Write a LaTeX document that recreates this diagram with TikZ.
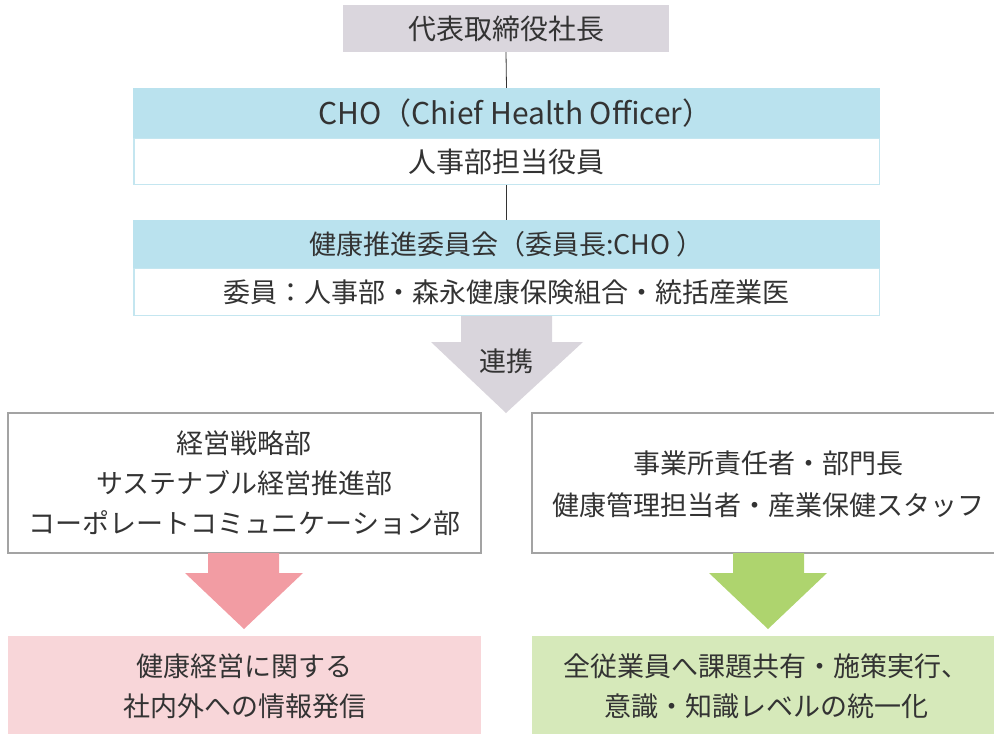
\documentclass[tikz,border=0pt]{standalone}
\usepackage{fontspec}
\setmainfont{Noto Sans CJK JP}
\definecolor{txt}{HTML}{333333}
\definecolor{ceogray}{HTML}{DAD6DD}
\definecolor{hblue}{HTML}{BAE2EE}
\definecolor{bblue}{HTML}{C4E6F0}
\definecolor{boxgray}{HTML}{A3A3A3}
\definecolor{arrgray}{HTML}{D9D5DC}
\definecolor{arrpink}{HTML}{F29CA3}
\definecolor{boxpink}{HTML}{F8D6D9}
\definecolor{arrgreen}{HTML}{AED46E}
\definecolor{boxgreen}{HTML}{D6E9BA}
\begin{document}
\begin{tikzpicture}[x=1pt,y=-1pt,
  every node/.style={text=txt, inner sep=0pt, font=\fontsize{27}{40}\selectfont},
  big/.style={font=\fontsize{28}{40}\selectfont},
  hdr/.style={fill=hblue, minimum width=747pt, align=center},
  sub/.style={fill=white, draw=bblue, line width=1.5pt, minimum width=745.5pt, align=center},
  plain/.style={fill=white, draw=boxgray, line width=1.2pt, align=center},
  res/.style={align=center},
  link/.style={draw=txt, line width=0.8pt}]
\useasboundingbox (0,0) rectangle (994,734);
% top
\node[big, fill=ceogray, minimum width=326pt, minimum height=47pt] (ceo) at (506,28.5) {代表取締役社長};
% CHO block
\node[hdr, minimum height=50pt, font=\fontsize{30}{40}\selectfont] (cho) at (506.5,113) {\hspace*{18pt}CHO（Chief Health Officer）};
\node[sub, big, minimum height=46pt] (chomem) at (506.5,161.5) {人事部担当役員};
\draw[link] (ceo.south) -- (cho.north);
% committee block
\node[hdr, minimum height=48pt] (com) at (506.5,244) {健康推進委員会（委員長:CHO ）};
\node[sub, minimum height=47pt] (commem) at (506.5,292) {委員：人事部・森永健康保険組合・統括産業医};
\draw[link] (chomem.south) -- (com.north);
% gray arrow
\fill[arrgray] (461,316) -- (552,316) -- (552,342) -- (583,342) -- (506,413) -- (431,342) -- (461,342) -- cycle;
\node (renkei) at (506,361) {連携};
% left column
\node[plain, minimum width=473pt, minimum height=140pt] (left) at (244.5,483)
  {経営戦略部\\サステナブル経営推進部\\コーポレートコミュニケーション部};
\fill[arrpink] (208,553) -- (279,553) -- (279,573) -- (303,573) -- (244,629) -- (185,573) -- (208,573) -- cycle;
\node[fill=boxpink, minimum width=473pt, minimum height=100pt] (leftres) at (244.5,686) {};
\node[res] (lefttxt) at (244.5,686.5) {健康経営に関する\\社内外への情報発信};
% right column
\node[plain, minimum width=470pt, minimum height=140pt] (right) at (767,483) {};
\node[res, font=\fontsize{27}{42}\selectfont] (righttxt) at (768,484) {事業所責任者・部門長\\健康管理担当者・産業保健スタッフ};
\fill[arrgreen] (733,553) -- (804,553) -- (804,573) -- (827,573) -- (768,629) -- (709,573) -- (733,573) -- cycle;
\node[fill=boxgreen, minimum width=470pt, minimum height=100pt] (rightres) at (767,686) {};
\node[res] (righttxt2) at (766,686.5) {全従業員へ課題共有・施策実行、\\意識・知識レベルの統一化};
\end{tikzpicture}
\end{document}
